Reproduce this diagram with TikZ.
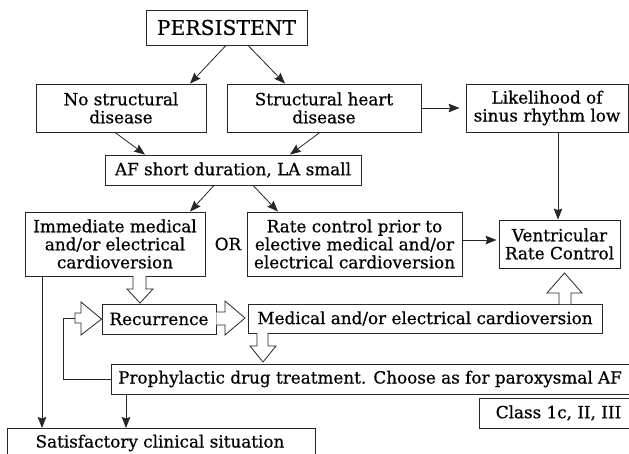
\documentclass[tikz,border=0pt]{standalone}
\usepackage{fontspec}
\setmainfont{DejaVu Serif}[FakeBold=0.6]
\usetikzlibrary{arrows.meta,calc}
\begin{document}
\begin{tikzpicture}[x=1pt,y=-1pt,
  txt/.style={font=\fontsize{16.8}{18}\selectfont},
  box/.style={draw=black!85, line width=0.8pt, inner sep=0pt, align=center, txt},
  lbl/.style={inner sep=0pt, align=center, txt},
  arr/.style={draw=black!85, line width=0.8pt, -{Stealth[length=11pt,width=8.5pt,inset=1.5pt]}},
  ln/.style={draw=black!85, line width=0.8pt},
  hol/.style={draw=black!85, line width=0.8pt, fill=white, line join=miter}]
\useasboundingbox (0,0) rectangle (629,453);
% boxes
\node[box, minimum width=161pt, minimum height=35pt, font=\fontsize{20.3}{22}\selectfont] (pers) at (226.5,27.5) {PERSISTENT};
\node[box, minimum width=170pt, minimum height=48pt] (nostr) at (121,108) {No structural\\disease};
\node[box, minimum width=194pt, minimum height=48pt] (str) at (324,108) {Structural heart\\disease};
\node[box, minimum width=162pt, minimum height=48pt] (like) at (547,108) {Likelihood of\\sinus rhythm low};
\node[box, minimum width=256pt, minimum height=30pt] (af) at (233,170) {AF short duration, LA small};
\node[box, minimum width=180pt, minimum height=64pt] (imm) at (115,244) {Immediate medical\\and/or electrical\\cardioversion};
\node[lbl] (or) at (228,244) {OR};
\node[box, minimum width=215pt, minimum height=64pt] (rate) at (354.5,244) {Rate control prior to\\elective medical and/or\\electrical cardioversion};
\node[box, minimum width=121pt, minimum height=48pt] (vent) at (559.5,244) {Ventricular\\Rate Control};
\node[box, minimum width=114pt, minimum height=30pt] (rec) at (159,319) {Recurrence};
\node[box, minimum width=354pt, minimum height=29pt] (med) at (425,318.5) {Medical and/or electrical cardioversion};
% open boxes
\node[lbl, minimum height=30pt] (proph) at (370,379) {Prophylactic drug treatment. Choose as for paroxysmal AF};
\draw[ln] (640,364) -- (111,364) coordinate (prophnw) -- (111,394) coordinate (prophsw) -- (640,394);
\coordinate (prophw) at (111,379);
\node[lbl] (class) at (558.5,413) {Class 1c, II, III};
\draw[ln] (640,398) -- (479,398) -- (479,428) -- (640,428);
\node[lbl] (sat) at (160,443) {Satisfactory clinical situation};
\draw[ln] (7,460) -- (7,428) -- (315,428) -- (315,460);
\coordinate (sattop) at (0,428);
% arrows
\draw[arr] (226,0 |- pers.south) -- (190,0 |- nostr.north);
\draw[arr] (248,0 |- pers.south) -- (285,0 |- str.north);
\draw[arr] (115,0 |- nostr.south) -- (145,0 |- af.north);
\draw[arr] (320,0 |- str.south) -- (290,0 |- af.north);
\draw[arr, shorten >=6pt] (str.east) -- (like.west);
\draw[arr] (214,0 |- af.south) -- (190,0 |- imm.north);
\draw[arr] (253,0 |- af.south) -- (278,0 |- rate.north);
\draw[arr, shorten >=2pt] (rate.east |- 0,240) -- (vent.west |- 0,240);
\draw[arr] (558,0 |- like.south) -- (558,0 |- vent.north);
\draw[arr] (42,0 |- imm.south) -- (42,0 |- sattop);
\draw[arr] (126,0 |- prophsw) -- (126,0 |- sattop);
\draw[ln] (prophw) -- (63,379) -- (63,318) -- (75,318);
% hollow arrows
\draw[hol] (133,276) -- (133,289) -- (127,289) -- (140,303) -- (153,289) -- (146,289) -- (146,276);
\draw[hol] (75,313) -- (81,313) -- (81,302) -- (rec.west) -- (81,335) -- (81,323) -- (75,323) -- cycle;
\draw[hol] (rec.east |- 0,312) -- (225,312) -- (225,301) -- (245,318) -- (225,335) -- (225,325) -- (rec.east |- 0,325);
\draw[hol] (257,333) -- (257,346) -- (250,346) -- (263,362) -- (276,346) -- (268,346) -- (268,333);
\draw[hol] (559,304) -- (559,293) -- (547,293) -- (564.5,273) -- (582,293) -- (571,293) -- (571,304);
\end{tikzpicture}
\end{document}
